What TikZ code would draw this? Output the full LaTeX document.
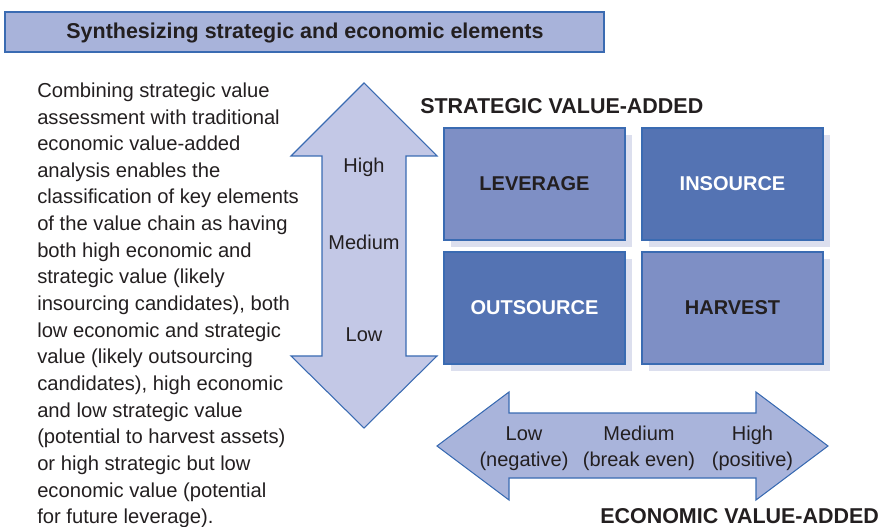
\documentclass[tikz,border=0pt]{standalone}
\usepackage{fontspec}
\setmainfont{Liberation Sans}
\definecolor{edgeblue}{HTML}{3A6BB2}
\definecolor{titlefill}{HTML}{A8B3DA}
\definecolor{varrowfill}{HTML}{C3C8E6}
\definecolor{harrowfill}{HTML}{A9B4DB}
\definecolor{quadlight}{HTML}{7E8FC5}
\definecolor{quaddark}{HTML}{5473B3}
\definecolor{shadowc}{HTML}{DCDFEE}
\definecolor{inkc}{HTML}{231F20}
\tikzset{
  quad/.style={draw=edgeblue, line width=0.8pt, minimum width=181*0.75pt, minimum height=112*0.75pt, inner sep=0pt, font=\fontsize{15}{18}\selectfont\bfseries},
  arrowshape/.style={draw=edgeblue, line width=0.8pt},
  lab/.style={font=\fontsize{15}{19.5}\selectfont, text=inkc, align=center, inner sep=0pt},
  axislab/.style={font=\fontsize{16.1}{18}\selectfont\bfseries, text=inkc, inner sep=0pt}
}
\begin{document}
\begin{tikzpicture}[x=0.75pt,y=-0.75pt]
\useasboundingbox (0,0) rectangle (882,527);
% title
\node[draw=edgeblue, line width=0.8pt, fill=titlefill, minimum width=599*0.75pt, minimum height=40*0.75pt, inner sep=0pt] (title) at (304.5,32) {};
\node[font=\fontsize{16.1}{18}\selectfont\bfseries, text=inkc, inner sep=0pt] (titletext) at (305,33) {Synthesizing strategic and economic elements};
% body text
\node[anchor=north west, inner sep=0pt, align=left, font=\fontsize{15.15}{19.98}\selectfont, text=inkc] (body) at (37,82.5) {Combining strategic value\\assessment with traditional\\economic value-added\\analysis enables the\\classification of key elements\\of the value chain as having\\both high economic and\\strategic value (likely\\insourcing candidates), both\\low economic and strategic\\value (likely outsourcing\\candidates), high economic\\and low strategic value\\(potential to harvest assets)\\or high strategic but low\\economic value (potential\\for future leverage).};
% vertical arrow
\draw[arrowshape, fill=varrowfill] (364,83) -- (437,156) -- (406,156) -- (406,356) -- (437,356) -- (364,428) -- (291,356) -- (322,356) -- (322,156) -- (291,156) -- cycle;
\node[lab, anchor=base] (vhigh) at (364,172.5) {High};
\node[lab, anchor=base] (vmed) at (364,250) {Medium};
\node[lab, anchor=base] (vlow) at (364,342) {Low};
% axis labels
\node[axislab, anchor=west] (strat) at (420,106) {STRATEGIC VALUE-ADDED};
\node[axislab, anchor=west] (econ) at (600,516.5) {ECONOMIC VALUE-ADDED};
% shadows
\fill[shadowc] (451,135) rectangle (632,247);
\fill[shadowc] (649,135) rectangle (830,247);
\fill[shadowc] (451,259) rectangle (632,371);
\fill[shadowc] (649,259) rectangle (830,371);
% quadrants
\node[quad, fill=quadlight, text=inkc] (lev) at (534.5,184) {LEVERAGE};
\node[quad, fill=quaddark, text=white] (ins) at (732.5,184) {INSOURCE};
\node[quad, fill=quaddark, text=white] (out) at (534.5,308) {OUTSOURCE};
\node[quad, fill=quadlight, text=inkc] (har) at (732.5,308) {HARVEST};
% horizontal arrow
\draw[arrowshape, fill=harrowfill] (437,446) -- (509,392) -- (509,413) -- (756,413) -- (756,392) -- (828,446) -- (756,500) -- (756,478) -- (509,478) -- (509,500) -- cycle;
\node[lab, anchor=base] (hlow) at (524,466) {Low\\(negative)};
\node[lab, anchor=base] (hmed) at (639,466) {Medium\\(break even)};
\node[lab, anchor=base] (hhigh) at (752.5,466) {High\\(positive)};
\end{tikzpicture}
\end{document}
